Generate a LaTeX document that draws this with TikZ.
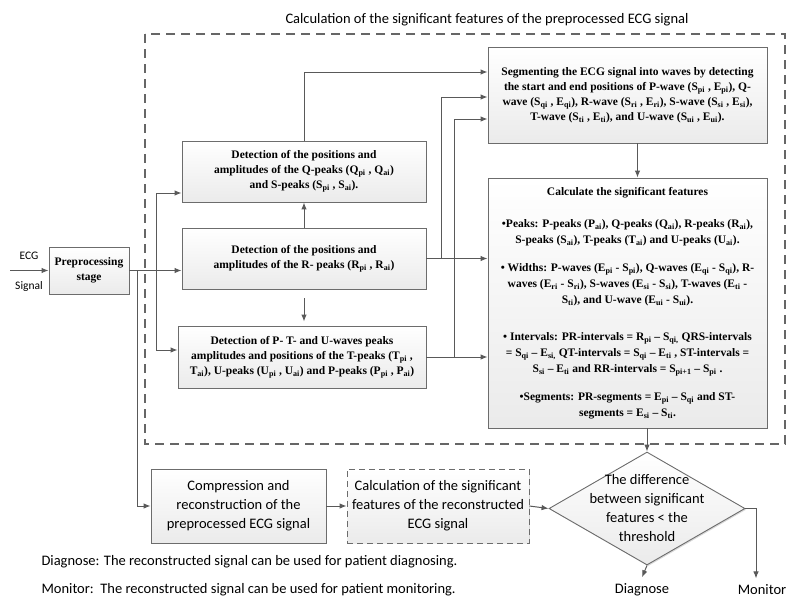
\documentclass[tikz,border=0pt]{standalone}
\usepackage{fontspec}
\setmainfont{Liberation Serif}
\newfontfamily\labelfont{Carlito}
\usetikzlibrary{arrows.meta,shapes.geometric,shadows}
\newcommand{\ssub}[1]{\textsubscript{#1}}

\tikzset{
  box/.style={draw=gray!85!black, line width=0.9pt, top color=white, bottom color=gray!16,
    align=center, inner sep=2pt, font=\bfseries\fontsize{11.5}{15}\selectfont,
    drop shadow={shadow xshift=1.2pt, shadow yshift=-1.2pt, opacity=0.3}},
  decision/.style={diamond, draw=gray!85!black, line width=0.9pt, top color=white, bottom color=gray!16,
    inner sep=0pt, minimum width=196pt, minimum height=113pt,
    drop shadow={shadow xshift=1.2pt, shadow yshift=-1.2pt, opacity=0.3}},
  conn/.style={draw=black!65, line width=1pt, -{Latex[length=7pt,width=5.5pt]}},
  lbl/.style={font=\labelfont\fontsize{14.5}{19}\selectfont, align=center}
}

\begin{document}
\begin{tikzpicture}[x=1pt,y=-1pt]
  \useasboundingbox (0,0) rectangle (808,598);
  %% dashed frame round the feature calculation
  \draw[black!60, line width=1.3pt, dash pattern=on 9pt off 6pt] (145,34) rectangle (785,444);
  \node[lbl] (title) at (487,20) {Calculation of the significant features of the preprocessed ECG signal};

  \node[box, minimum width=80pt, minimum height=47pt] (pre) at (89,270.5) {Preprocessing\\stage};
  \node[font=\labelfont\fontsize{11.5}{13}\selectfont] (ecg) at (29,256) {ECG};
  \node[font=\labelfont\fontsize{11.5}{13}\selectfont] (sig) at (29,286) {Signal};
  \coordinate (in) at (10,270.5);

  \node[box, minimum width=244pt, minimum height=61pt] (qbox) at (304,171.5)
    {Detection of the positions and\\amplitudes of the Q-peaks (Q\ssub{pi} , Q\ssub{ai})\\and S-peaks (S\ssub{pi} , S\ssub{ai}).};
  \node[box, minimum width=244pt, minimum height=61pt] (rbox) at (304,258.5)
    {Detection of the positions and\\amplitudes of the R- peaks (R\ssub{pi} , R\ssub{ai})};
  \node[box, minimum width=248pt, minimum height=62pt] (tbox) at (302,357)
    {Detection of P- T- and U-waves peaks\\amplitudes and positions of the T-peaks (T\ssub{pi} ,\\T\ssub{ai}), U-peaks (U\ssub{pi} , U\ssub{ai}) and P-peaks (P\ssub{pi} , P\ssub{ai})};

  \node[box, minimum width=279pt, minimum height=96pt] (seg) at (627.5,95)
    {Segmenting the ECG signal into waves by detecting\\the start and end positions of P-wave (S\ssub{pi} , E\ssub{pi}), Q-\\wave (S\ssub{qi} , E\ssub{qi}), R-wave (S\ssub{ri} , E\ssub{ri}), S-wave (S\ssub{si} , E\ssub{si}),\\T-wave (S\ssub{ti} , E\ssub{ti}), and U-wave (S\ssub{ui} , E\ssub{ui}).};
  \node[box, minimum width=279pt, minimum height=250pt, font=\bfseries\fontsize{11.5}{16}\selectfont] (calc) at (627.5,303)
    {Calculate the significant features\\[16pt]
     •Peaks: P-peaks (P\ssub{ai}), Q-peaks (Q\ssub{ai}), R-peaks (R\ssub{ai}),\\S-peaks (S\ssub{ai}), T-peaks (T\ssub{ai}) and U-peaks (U\ssub{ai}).\\[12pt]
     • Widths: P-waves (E\ssub{pi} - S\ssub{pi}), Q-waves (E\ssub{qi} - S\ssub{qi}), R-\\waves (E\ssub{ri} - S\ssub{ri}), S-waves (E\ssub{si} - S\ssub{si}), T-waves (E\ssub{ti} -\\S\ssub{ti}), and U-wave (E\ssub{ui} - S\ssub{ui}).\\[21pt]
     • Intervals: PR-intervals = R\ssub{pi} – S\ssub{qi,} QRS-intervals\\= S\ssub{qi} – E\ssub{si,} QT-intervals = S\ssub{qi} – E\ssub{ti} , ST-intervals =\\S\ssub{si} – E\ssub{ti} and RR-intervals = S\ssub{pi+1} – S\ssub{pi} .\\[12pt]
     •Segments: PR-segments = E\ssub{pi} – S\ssub{qi} and ST-\\segments = E\ssub{si} – S\ssub{ti}.};

  \node[box, lbl, minimum width=175pt, minimum height=74pt] (comp) at (238.5,506)
    {Compression and\\reconstruction of the\\preprocessed ECG signal};
  \node[box, lbl, dashed, dash pattern=on 6pt off 4pt, minimum width=182pt, minimum height=74pt] (rcalc) at (438,506)
    {Calculation of the significant\\features of the reconstructed\\ECG signal};
  \node[decision] (cmp) at (647,508.5) {};
  \node[lbl] (cmptext) at (cmp.center) {The difference\\between significant\\features < the\\threshold};

  \node[lbl] (dia) at (642,590) {Diagnose};
  \node[lbl] (mon) at (762,590) {Monitor};
  \node[lbl, anchor=west] (note1) at (38,562) {Diagnose: The reconstructed signal can be used for patient diagnosing.};
  \node[lbl, anchor=west] (note2) at (38,590) {Monitor:\ \ The reconstructed signal can be used for patient monitoring.};

  %% connectors
  \draw[conn] (in) -- (pre.west);
  \draw[conn] (pre.east) -- (pre.east -| rbox.west);
  \draw[conn] ([xshift=27pt]pre.east) |- ([yshift=-21.5pt]qbox.west);
  \draw[conn] ([xshift=27pt]pre.east) |- ([yshift=7pt]tbox.west);
  \draw[conn] ([xshift=8pt]pre.east) |- (comp.west);
  \draw[conn] (rbox.north) -- (qbox.south);
  \draw[conn, shorten <=9pt, shorten >=4pt] (rbox.south) -- (rbox.south |- tbox.north);
  \draw[conn] (qbox.north) |- ([yshift=23pt]seg.west);
  \draw[conn] (rbox.east) -- ++(15,0) |- ([yshift=-2pt]seg.west);
  \draw[conn] (tbox.east) -- ++(28,0) |- ([yshift=-24pt]seg.west);
  \draw[conn] (rbox.east) -- (rbox.east -| calc.west);
  \draw[conn] (tbox.east) -- (tbox.east -| calc.west);
  \draw[conn] ([xshift=10pt]seg.south) -- ([xshift=10pt]seg.south |- calc.north);
  \draw[conn] (calc.south -| cmp.north) -- (cmp.north);
  \draw[conn] (comp.east) -- (rcalc.west);
  \draw[conn] (rcalc.east) -- (cmp.west);
  \draw[conn] (cmp.south) -- ([yshift=3pt]dia.north);
  \draw[conn] (cmp.east) -| ([xshift=-6pt,yshift=3pt]mon.north);
\end{tikzpicture}
\end{document}
